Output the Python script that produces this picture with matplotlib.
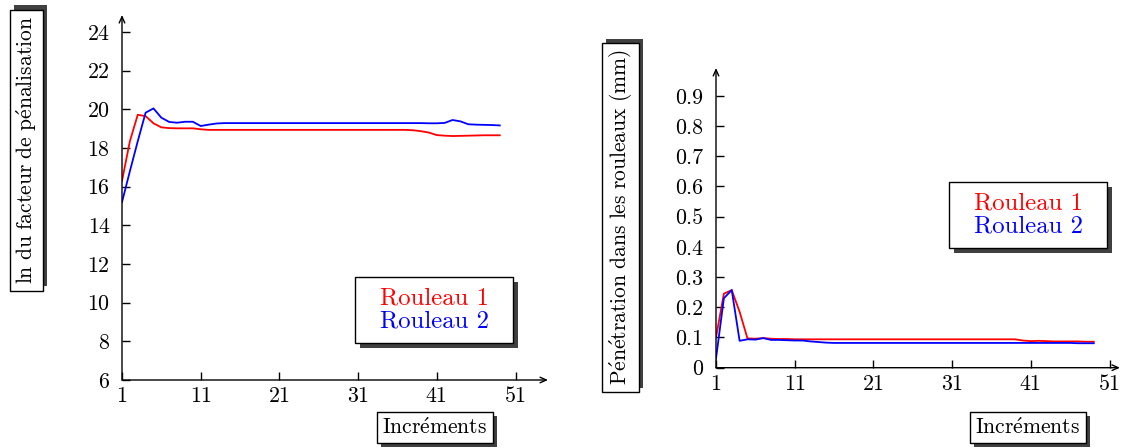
import matplotlib
matplotlib.use('Agg')
import matplotlib.pyplot as plt
from matplotlib.patches import Rectangle

plt.rcParams['font.family'] = 'cmr10'
plt.rcParams['mathtext.fontset'] = 'cm'
plt.rcParams['axes.formatter.use_mathtext'] = True

# increments 1..49
increments = list(range(1, 50))

# ln du facteur de penalisation
ln_rouleau1 = [16.3, 18.35, 19.72, 19.65, 19.28, 19.07, 19.03, 19.02, 19.02, 19.02,
               18.97, 18.94, 18.94, 18.94, 18.94, 18.94, 18.94, 18.94, 18.94, 18.94,
               18.94, 18.94, 18.94, 18.94, 18.94, 18.94, 18.94, 18.94, 18.94, 18.94,
               18.94, 18.94, 18.94, 18.94, 18.94, 18.94, 18.94, 18.92, 18.87, 18.80,
               18.67, 18.64, 18.62, 18.63, 18.64, 18.65, 18.66, 18.66, 18.66]
ln_rouleau2 = [15.2, 16.8, 18.35, 19.83, 20.05, 19.57, 19.35, 19.31, 19.36, 19.36,
               19.14, 19.21, 19.27, 19.29, 19.29, 19.29, 19.29, 19.29, 19.29, 19.29,
               19.29, 19.29, 19.29, 19.29, 19.29, 19.29, 19.29, 19.29, 19.29, 19.29,
               19.29, 19.29, 19.29, 19.29, 19.29, 19.29, 19.29, 19.29, 19.29, 19.28,
               19.28, 19.30, 19.45, 19.38, 19.23, 19.21, 19.20, 19.19, 19.17]

# penetration dans les rouleaux (mm)
pen_rouleau1 = [0.10, 0.245, 0.257, 0.185, 0.097, 0.096, 0.098, 0.096, 0.095, 0.095,
                0.094, 0.094, 0.094, 0.094, 0.094, 0.094, 0.094, 0.094, 0.094, 0.094,
                0.094, 0.094, 0.094, 0.094, 0.094, 0.094, 0.094, 0.094, 0.094, 0.094,
                0.094, 0.094, 0.094, 0.094, 0.094, 0.094, 0.094, 0.094, 0.094, 0.090,
                0.088, 0.089, 0.088, 0.087, 0.087, 0.087, 0.087, 0.086, 0.086]
pen_rouleau2 = [0.03, 0.23, 0.257, 0.089, 0.094, 0.093, 0.098, 0.092, 0.092, 0.091,
                0.090, 0.090, 0.087, 0.085, 0.083, 0.082, 0.082, 0.082, 0.082, 0.082,
                0.082, 0.082, 0.082, 0.082, 0.082, 0.082, 0.082, 0.082, 0.082, 0.082,
                0.082, 0.082, 0.082, 0.082, 0.082, 0.082, 0.082, 0.082, 0.082, 0.082,
                0.082, 0.082, 0.082, 0.082, 0.082, 0.082, 0.081, 0.081, 0.081]

x_ticks = [1, 11, 21, 31, 41, 51]
ln_ticks = [6, 8, 10, 12, 14, 16, 18, 20, 22, 24]
pen_ticks = [0, 0.1, 0.2, 0.3, 0.4, 0.5, 0.6, 0.7, 0.8, 0.9]
pen_labels = ['0', '0.1', '0.2', '0.3', '0.4', '0.5', '0.6', '0.7', '0.8', '0.9']

noms = ['Rouleau 1', 'Rouleau 2']
ylabel_ln = r'$\mathrm{ln\ du\ facteur\ de\ p\acute{e}nalisation}$'
ylabel_pen = r'$\mathrm{P\acute{e}n\acute{e}tration\ dans\ les\ rouleaux\ (mm)}$'
xlabel = r'$\mathrm{Incr\acute{e}ments}$'

W, H = 1137, 448
fig = plt.figure(figsize=(W / 100, H / 100), dpi=100)


def boite(x0, y0, x1, y1, dx=4, dy=4):
    # boite blanche avec ombre grise (coordonnees en pixels, origine en haut)
    fig.patches.append(Rectangle(((x0 + dx) / W, 1 - (y1 + dy) / H), (x1 - x0) / W, (y1 - y0) / H,
                                 transform=fig.transFigure, fc='#404040', ec='none', zorder=1))
    fig.patches.append(Rectangle((x0 / W, 1 - y1 / H), (x1 - x0) / W, (y1 - y0) / H,
                                 transform=fig.transFigure, fc='white', ec='black', lw=1.0, zorder=2))
    return (x0 + x1) / 2 / W, 1 - (y0 + y1) / 2 / H


def axes_fleches(ax):
    for s in ax.spines.values():
        s.set_visible(False)
    fl = dict(arrowstyle='->,head_length=0.45,head_width=0.2', lw=1.0, color='black',
              shrinkA=0, shrinkB=0)
    ax.annotate('', xy=(1, 0), xytext=(0, 0), xycoords='axes fraction', arrowprops=fl)
    ax.annotate('', xy=(0, 1), xytext=(0, 0), xycoords='axes fraction', arrowprops=fl)
    ax.tick_params(direction='in', length=6, width=1.0, labelsize=15.8)
    ax.tick_params(axis='y', pad=9)
    ax.tick_params(axis='x', pad=5)


# graphe de gauche
ax1 = fig.add_axes([122 / W, 1 - 380 / H, 426 / W, 365 / H])
l1, = ax1.plot(increments, ln_rouleau1, color='red', lw=1.3)
l2, = ax1.plot(increments, ln_rouleau2, color='blue', lw=1.3)
ax1.set_xlim(1, 1 + 426 / 7.87)
ax1.set_ylim(6, 6 + 365 / 19.33)
ax1.set_xticks(x_ticks, [str(t) for t in x_ticks])
ax1.set_yticks(ln_ticks, [str(t) for t in ln_ticks])
axes_fleches(ax1)

# graphe de droite
ax2 = fig.add_axes([716 / W, 1 - 367.7 / H, 404 / W, 299.7 / H])
m1, = ax2.plot(increments, pen_rouleau1, color='red', lw=1.3)
m2, = ax2.plot(increments, pen_rouleau2, color='blue', lw=1.3)
ax2.set_xlim(1, 1 + 404 / 7.87)
ax2.set_ylim(0, 299.7 / 302)
ax2.set_xticks(x_ticks, [str(t) for t in x_ticks])
ax2.set_yticks(pen_ticks, pen_labels)
axes_fleches(ax2)

# etiquettes encadrees
cx, cy = boite(10, 10, 43, 291, dx=4, dy=-5)
fig.text(cx, cy, ylabel_ln, rotation=90, ha='center', va='center', fontsize=15.5, zorder=3)
cx, cy = boite(601.7, 43.3, 639.3, 391.7, dx=4, dy=-4)
fig.text(cx, cy, ylabel_pen, rotation=90, ha='center', va='center', fontsize=15.5, zorder=3)
cx, cy = boite(376.7, 411.7, 492.7, 443.3)
fig.text(cx, cy, xlabel, ha='center', va='center', fontsize=15.5, zorder=3)
cx, cy = boite(969.5, 411.7, 1085.5, 443.3)
fig.text(cx, cy, xlabel, ha='center', va='center', fontsize=15.5, zorder=3)

# legendes
cx, cy = boite(355, 277.3, 513.3, 342.7, dx=5, dy=5)
fig.legend([l1, l2], noms, loc='center', bbox_to_anchor=(cx, cy), frameon=False,
           handlelength=0, handletextpad=0, labelcolor='linecolor', fontsize=17.8,
           labelspacing=0.05, borderpad=0)
cx, cy = boite(949.3, 182.3, 1106.7, 247.7, dx=5, dy=5)
fig.legend([m1, m2], noms, loc='center', bbox_to_anchor=(cx, cy), frameon=False,
           handlelength=0, handletextpad=0, labelcolor='linecolor', fontsize=17.8,
           labelspacing=0.05, borderpad=0)

fig.savefig('out.png', dpi=100)
